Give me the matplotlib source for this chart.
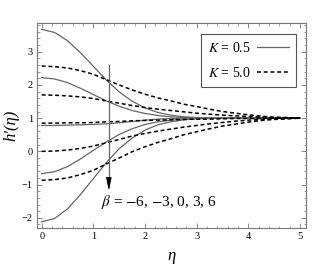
import numpy as np
import matplotlib
matplotlib.use('Agg')
import matplotlib.pyplot as plt
from matplotlib.ticker import MultipleLocator

plt.rcParams['font.family'] = 'serif'
plt.rcParams['font.serif'] = ['Liberation Serif', 'DejaVu Serif']
plt.rcParams['mathtext.fontset'] = 'stix'

# eta grid the values were read at
eta = [0, 0.25, 0.5, 0.75, 1.0, 1.25, 1.5, 1.75, 2.0, 2.25, 2.5,
       2.75, 3.0, 3.25, 3.5, 3.75, 4.0, 4.25, 4.5, 4.75, 5.0]

# K = 0.5 (solid), beta = -6, -3, 0, 3, 6
k05 = [
    [3.67, 3.58, 3.33, 2.97, 2.56, 2.15, 1.79, 1.51, 1.31, 1.17, 1.09,
     1.04, 1.02, 1.01, 1.00, 1.00, 1.00, 1.00, 1.00, 1.00, 1.00],
    [2.22, 2.18, 2.07, 1.90, 1.71, 1.52, 1.36, 1.23, 1.14, 1.08, 1.04,
     1.02, 1.01, 1.00, 1.00, 1.00, 1.00, 1.00, 1.00, 1.00, 1.00],
    [0.78, 0.78, 0.79, 0.80, 0.81, 0.83, 0.86, 0.90, 0.94, 0.97, 0.99,
     1.00, 1.00, 1.00, 1.00, 1.00, 1.00, 1.00, 1.00, 1.00, 1.00],
    [-0.67, -0.61, -0.46, -0.23, 0.03, 0.28, 0.51, 0.68, 0.81, 0.89, 0.94,
     0.97, 0.99, 0.99, 1.00, 1.00, 1.00, 1.00, 1.00, 1.00, 1.00],
    [-2.12, -2.02, -1.73, -1.30, -0.82, -0.34, 0.08, 0.40, 0.64, 0.80, 0.89,
     0.95, 0.98, 0.99, 1.00, 1.00, 1.00, 1.00, 1.00, 1.00, 1.00],
]

# K = 5.0 (dashed)
k50 = [
    [2.57, 2.55, 2.51, 2.43, 2.32, 2.16, 2.00, 1.85, 1.72, 1.61, 1.52,
     1.42, 1.35, 1.27, 1.20, 1.15, 1.10, 1.06, 1.03, 1.02, 1.00],
    [1.70, 1.69, 1.67, 1.64, 1.59, 1.52, 1.45, 1.38, 1.32, 1.27, 1.23,
     1.19, 1.15, 1.12, 1.09, 1.07, 1.05, 1.03, 1.01, 1.01, 1.00],
    [0.85, 0.85, 0.86, 0.86, 0.87, 0.89, 0.90, 0.92, 0.93, 0.94, 0.95,
     0.96, 0.97, 0.97, 0.98, 0.99, 0.99, 0.99, 1.00, 1.00, 1.00],
    [0.00, 0.01, 0.04, 0.09, 0.16, 0.26, 0.36, 0.46, 0.54, 0.61, 0.67,
     0.73, 0.78, 0.83, 0.87, 0.91, 0.94, 0.96, 0.98, 0.99, 1.00],
    [-0.87, -0.85, -0.80, -0.70, -0.57, -0.38, -0.20, -0.01, 0.14, 0.27, 0.38,
     0.50, 0.59, 0.68, 0.76, 0.82, 0.88, 0.93, 0.96, 0.98, 1.00],
]

fig = plt.figure(figsize=(3.25, 2.69), dpi=100)
ax = fig.add_axes([0.114, 0.152, 0.828, 0.762])

for i, ys in enumerate(k05):
    ax.plot(eta, ys, color='#666666', lw=0.9,
            label='$K$ = 0.5' if i == 0 else None)
for i, ys in enumerate(k50):
    ax.plot(eta, ys, color='black', lw=1.1, dashes=(2.6, 1.8),
            label='$K$ = 5.0' if i == 0 else None)

# arrow showing increasing beta: gray shaft, black head
ax.plot([1.3, 1.3], [2.6, -0.9], color='#666666', lw=0.9)
ax.annotate('', xy=(1.3, -1.2), xytext=(1.3, -0.85),
            arrowprops=dict(arrowstyle='-|>,head_length=0.75,head_width=0.15',
                            color='black', lw=0.9, shrinkA=0, shrinkB=0))
ax.text(1.14, -1.52, r'$\beta$ = $-$6, $-$3, 0, 3, 6', fontsize=11,
        va='center', ha='left')

ax.set_xlim(-0.09, 5.12)
ax.set_ylim(-2.31, 3.86)
ax.xaxis.set_major_locator(MultipleLocator(1))
ax.xaxis.set_minor_locator(MultipleLocator(0.2))
ax.yaxis.set_major_locator(MultipleLocator(1))
ax.yaxis.set_minor_locator(MultipleLocator(0.2))
ax.tick_params(which='both', direction='in', top=True, right=True,
               color='#777777', labelsize=7.5, pad=3)
ax.tick_params(which='major', length=3.5, width=0.6)
ax.tick_params(which='minor', length=1.8, width=0.5)
ax.set_yticks([-2, -1, 0, 1, 2, 3])
ax.set_yticklabels(['\u22122', '\u22121', '0', '1', '2', '3'])
for s in ax.spines.values():
    s.set_color('#777777')
    s.set_linewidth(0.8)

ax.set_xlabel('\u03b7', fontsize=12, fontstyle='italic', labelpad=5)
ax.set_ylabel('h\u2032(\u03b7)', fontsize=12, fontstyle='italic', labelpad=2)

leg = ax.legend(loc='upper right', bbox_to_anchor=(0.963, 0.946),
                borderaxespad=0, markerfirst=False, fontsize=10,
                handlelength=2.3, handletextpad=0.5, borderpad=0.5,
                labelspacing=0.75, fancybox=False, framealpha=1)
leg.get_frame().set_edgecolor('#555555')
leg.get_frame().set_linewidth(0.8)

fig.savefig('out.png', dpi=100)
